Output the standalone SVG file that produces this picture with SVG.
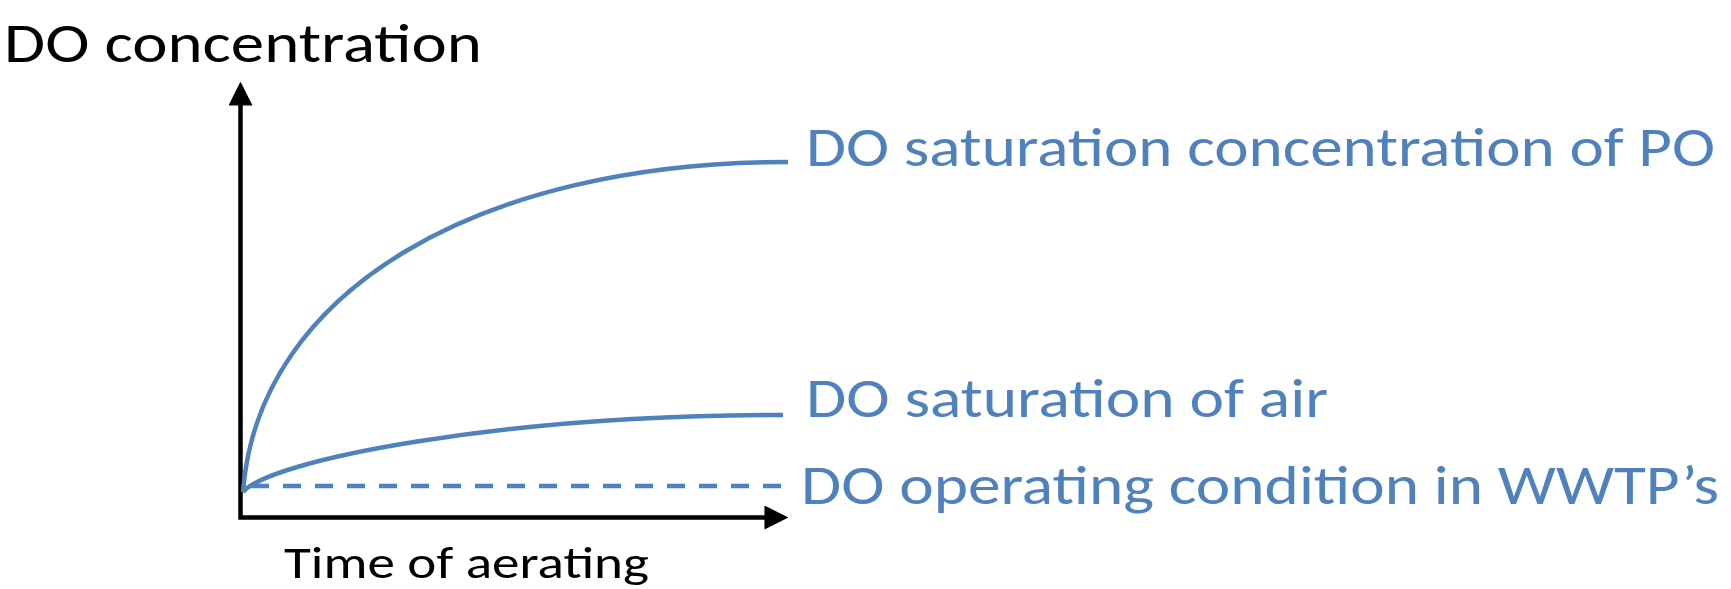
<svg xmlns="http://www.w3.org/2000/svg" width="1731" height="589" viewBox="0 0 1731 589">
  <style>
    .lbl { font-family: Carlito, Lato, "Liberation Sans", sans-serif; }
    .black { fill: #000000; }
    .blue { fill: #4F81BD; }
    .axis { fill: none; stroke: #000000; stroke-width: 4.5; stroke-linejoin: miter; }
    .curve { fill: none; stroke: #4F81BD; stroke-width: 4.5; stroke-linecap: butt; }
    .dash { fill: none; stroke: #4F81BD; stroke-width: 4.5; stroke-dasharray: 18 14; }
  </style>
  <defs>
    <marker id="arrow" markerUnits="userSpaceOnUse" markerWidth="24" markerHeight="24" viewBox="0 0 23 23" refX="13" refY="11.5" orient="auto-start-reverse">
      <path d="M0,0 L23,11.5 L0,23 Z" fill="#000000"/>
    </marker>
  </defs>
  <rect width="1731" height="589" fill="#ffffff"/>

  <g id="axes">
    <path class="axis" d="M240.5,92 L240.5,517.5 L778,517.5" marker-start="url(#arrow)" marker-end="url(#arrow)"/>
  </g>

  <g id="connectors">
    <path id="curve-po" class="curve" d="M243,492 C258,290 480,162 788,162"/>
    <path id="curve-air" class="curve" d="M243,492 C270,460 500,415 783,415"/>
    <path id="line-wwtp" class="dash" d="M251,486 L783,486"/>
  </g>

  <g id="label-y">
    <text class="lbl black" x="4" y="62" font-size="56" textLength="478" lengthAdjust="spacingAndGlyphs">DO concentration</text>
  </g>
  <g id="label-x">
    <text class="lbl black" x="284" y="578" font-size="46" textLength="365" lengthAdjust="spacingAndGlyphs">Time of aerating</text>
  </g>
  <g id="label-po">
    <text class="lbl blue" x="806" y="166" font-size="56" textLength="909" lengthAdjust="spacingAndGlyphs">DO saturation concentration of PO</text>
  </g>
  <g id="label-air">
    <text class="lbl blue" x="806" y="417" font-size="56" textLength="522" lengthAdjust="spacingAndGlyphs">DO saturation of air</text>
  </g>
  <g id="label-wwtp">
    <text class="lbl blue" x="801" y="504" font-size="56" textLength="918" lengthAdjust="spacingAndGlyphs">DO operating condition in WWTP’s</text>
  </g>
</svg>
